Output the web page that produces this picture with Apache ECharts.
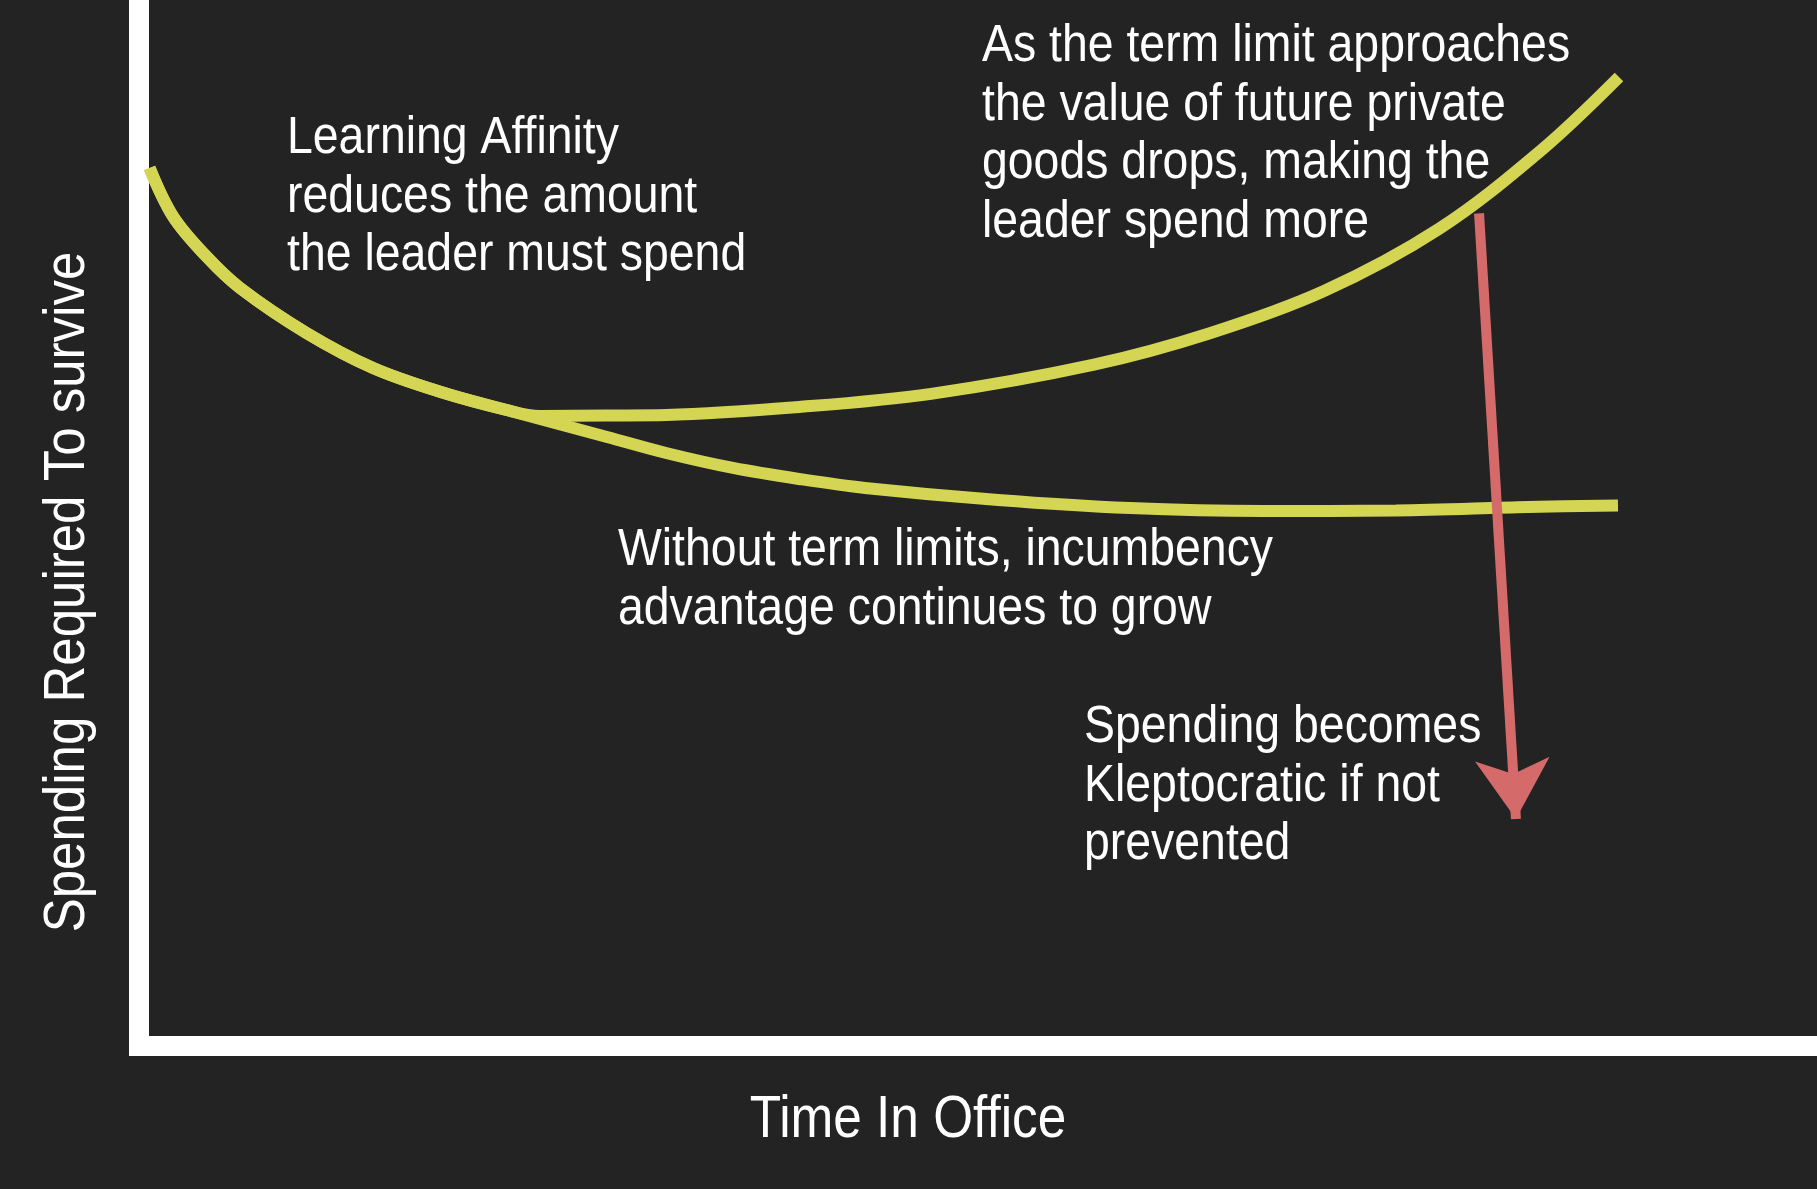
<!DOCTYPE html>
<html>
<head>
<meta charset="utf-8">
<title>Time In Office</title>
<script src="https://cdn.jsdelivr.net/npm/echarts@6/dist/echarts.min.js"></script>
<style>
    html, body { margin: 0; padding: 0; background: #232323; }
    #chart { width: 1817px; height: 1189px; }
</style>
</head>
<body>
<div id="chart"></div>
<script>
// 共同的起始段（两条曲线重合）
var sharedX = [0.63, 2.04, 4.03, 6.02, 9.99, 13.95, 17.94, 21.91];
var sharedY = [83.94, 79.28, 75.46, 72.47, 68.16, 64.82, 62.55, 60.80];

// 有任期限制：后段上升
var limitX = [23.90, 27.89, 31.41, 39.33, 47.20, 56.91, 63.77, 70.62, 77.47, 83.61, 88.20];
var limitY = [60.23, 60.28, 60.33, 61.09, 62.35, 65.14, 68.12, 72.18, 78.12, 85.70, 92.64];

// 没有任期限制：继续下降后趋平
var noLimitX = [27.89, 31.41, 35.40, 39.33, 43.27, 51.19, 59.06, 66.98, 74.91, 82.78, 88.14];
var noLimitY = [58.22, 56.69, 55.26, 54.21, 53.35, 52.20, 51.43, 51.15, 51.20, 51.53, 51.67];

// 红色箭头 起点 / 终点（箭头尖）
var arrowFrom = [79.86, 79.6];
var arrowTo = [82.06, 21.7];

var xTitle = 'Time In Office';
var yTitle = 'Spending Required To survive';
var notes = [
    { x: 287, y: 110, text: 'Learning Affinity\nreduces the amount\nthe leader must spend' },
    { x: 982, y: 18, text: 'As the term limit approaches\nthe value of future private\ngoods drops, making the\nleader spend more' },
    { x: 618, y: 522, text: 'Without term limits, incumbency\nadvantage continues to grow' },
    { x: 1084, y: 699, text: 'Spending becomes\nKleptocratic if not\nprevented' }
];

function zip(xs, ys) {
    var out = [];
    for (var i = 0; i < xs.length; i++) {
        out.push([xs[i], ys[i]]);
    }
    return out;
}

var yellow = '#d4d552';
var red = '#d46a6a';
var sans = '"Liberation Sans", Arial, sans-serif';

var myChart = echarts.init(document.getElementById('chart'));

// 说明文字（窄体：用 scaleX 压扁）
var texts = notes.map(function(n) {
    return {
        type: 'text',
        x: n.x,
        y: n.y,
        scaleX: 0.91,
        style: {
            text: n.text,
            fill: '#fff',
            font: '51px ' + sans,
            lineHeight: 58.5,
            verticalAlign: 'top'
        }
    };
});
// 坐标轴标题
texts.push({
    type: 'text',
    x: 908,
    y: 1121,
    scaleX: 0.87,
    style: {
        text: xTitle,
        fill: '#fff',
        font: '59px ' + sans,
        align: 'center',
        verticalAlign: 'middle'
    }
});
texts.push({
    type: 'text',
    x: 68,
    y: 592,
    rotation: Math.PI / 2,
    scaleX: 0.895,
    style: {
        text: yTitle,
        fill: '#fff',
        font: '57px ' + sans,
        align: 'center',
        verticalAlign: 'middle'
    }
});

var option = {
    backgroundColor: '#232323',
    animation: false,
    grid: { left: 139, right: 0, top: 0, bottom: 143 },
    xAxis: {
        type: 'value',
        min: 0,
        max: 100,
        axisLine: { lineStyle: { color: '#fff', width: 20, cap: 'square' } },
        axisTick: { show: false },
        axisLabel: { show: false },
        splitLine: { show: false }
    },
    yAxis: {
        type: 'value',
        min: 0,
        max: 100,
        axisLine: { lineStyle: { color: '#fff', width: 20, cap: 'square' } },
        axisTick: { show: false },
        axisLabel: { show: false },
        splitLine: { show: false }
    },
    graphic: texts,
    series: [{
        name: 'no limit',
        type: 'line',
        smooth: 0.35,
        symbol: 'none',
        lineStyle: { color: yellow, width: 12 },
        data: zip(sharedX.concat(noLimitX), sharedY.concat(noLimitY))
    }, {
        name: 'limit',
        type: 'line',
        smooth: 0.35,
        symbol: 'none',
        lineStyle: { color: yellow, width: 12 },
        data: zip(sharedX.concat(limitX), sharedY.concat(limitY)),
        markLine: {
            silent: true,
            symbol: ['none', 'arrow'],
            symbolSize: [56, 60],
            label: { show: false },
            lineStyle: { color: red, width: 10, type: 'solid' },
            data: [[{ coord: arrowFrom }, { coord: arrowTo }]]
        }
    }]
};

myChart.setOption(option);
</script>
</body>
</html>
